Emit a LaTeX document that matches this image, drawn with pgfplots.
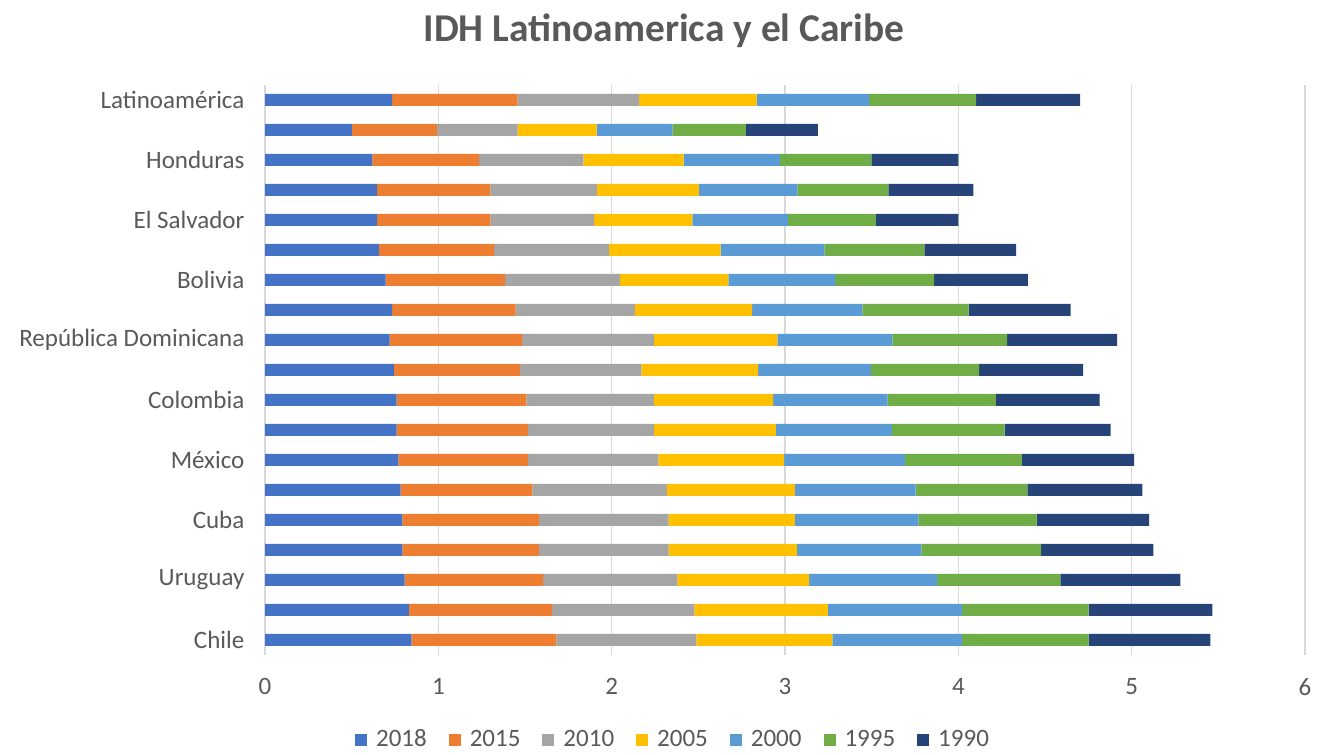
\documentclass[border=0pt]{standalone}
\usepackage{fontspec}
\setmainfont{Carlito}
\usepackage{pgfplots}
\usepackage{pgfplotstable}
\pgfplotsset{compat=1.18}
\definecolor{c18}{HTML}{4472C4}
\definecolor{c15}{HTML}{ED7D31}
\definecolor{c10}{HTML}{A5A5A5}
\definecolor{c05}{HTML}{FFC000}
\definecolor{c00}{HTML}{5B9BD5}
\definecolor{c95}{HTML}{70AD47}
\definecolor{c90}{HTML}{264478}
\definecolor{txt}{HTML}{595959}
\definecolor{gridc}{HTML}{D9D9D9}

\pgfplotstableread{
y  a18   a15   a10   a05   a00   a95   a90
0  0.844 0.837 0.807 0.785 0.749 0.730 0.702
1  0.830 0.826 0.821 0.771 0.774 0.730 0.713
2  0.805 0.799 0.775 0.760 0.738 0.711 0.693
3  0.793 0.787 0.749 0.740 0.718 0.690 0.648
4  0.793 0.787 0.749 0.728 0.713 0.682 0.649
5  0.783 0.760 0.776 0.738 0.696 0.645 0.664
6  0.770 0.748 0.752 0.725 0.698 0.673 0.648
7  0.760 0.758 0.725 0.704 0.670 0.650 0.612
8  0.760 0.748 0.735 0.688 0.661 0.625 0.598
9  0.743 0.728 0.700 0.674 0.651 0.624 0.600
10 0.719 0.764 0.760 0.713 0.663 0.662 0.635
11 0.733 0.713 0.688 0.677 0.635 0.614 0.588
12 0.696 0.688 0.663 0.627 0.615 0.571 0.541
13 0.657 0.665 0.664 0.642 0.599 0.577 0.529
14 0.647 0.653 0.599 0.566 0.552 0.507 0.476
15 0.647 0.653 0.614 0.589 0.568 0.525 0.491
16 0.620 0.616 0.601 0.578 0.555 0.529 0.501
17 0.501 0.490 0.467 0.455 0.439 0.422 0.415
18 0.733 0.725 0.701 0.677 0.649 0.618 0.600
}\data

\begin{document}
\begin{tikzpicture}
\path[use as bounding box] (0,0) rectangle (660pt,377pt);
\node[anchor=base, font=\bfseries\fontsize{19.7}{23}\selectfont, text=txt] at (332pt,356pt) {IDH Latinoamerica y el Caribe};
\begin{axis}[
  at={(132.5pt,49.5pt)}, anchor=south west,
  scale only axis, width=520pt, height=285pt,
  xbar stacked, bar width=6pt,
  xmin=0, xmax=6, ymin=-0.5, ymax=18.5,
  xtick={0,...,6}, ytick={0,...,18},
  yticklabels={Chile,{},Uruguay,{},Cuba,{},México,{},Colombia,{},República Dominicana,{},Bolivia,{},El Salvador,{},Honduras,{},Latinoamérica},
  xmajorgrids, major grid style={draw=gridc, line width=0.7pt},
  axis line style={draw=none},
  major tick length=0pt,
  tick label style={font=\fontsize{12.5}{15}\selectfont, text=txt},
  /pgf/number format/assume math mode=true,
  xticklabel style={yshift=-8.3pt},
  yticklabel style={xshift=-6.8pt},
  legend columns=7,
  legend style={at={(0.3933,-0.149)}, anchor=center, draw=none, fill=none,
    font=\fontsize{12.5}{15}\selectfont, text=txt, inner sep=1pt,
    /tikz/every even column/.append style={column sep=9pt}},
  legend image code/.code={\fill[#1] (0pt,-3pt) rectangle (6pt,3pt); \path (8.5pt,0pt);},
]
\addplot[fill=c18, draw=none] table[x=a18, y=y] {\data};
\addplot[fill=c15, draw=none] table[x=a15, y=y] {\data};
\addplot[fill=c10, draw=none] table[x=a10, y=y] {\data};
\addplot[fill=c05, draw=none] table[x=a05, y=y] {\data};
\addplot[fill=c00, draw=none] table[x=a00, y=y] {\data};
\addplot[fill=c95, draw=none] table[x=a95, y=y] {\data};
\addplot[fill=c90, draw=none] table[x=a90, y=y] {\data};
\legend{2018,2015,2010,2005,2000,1995,1990}
\end{axis}
\end{tikzpicture}
\end{document}
